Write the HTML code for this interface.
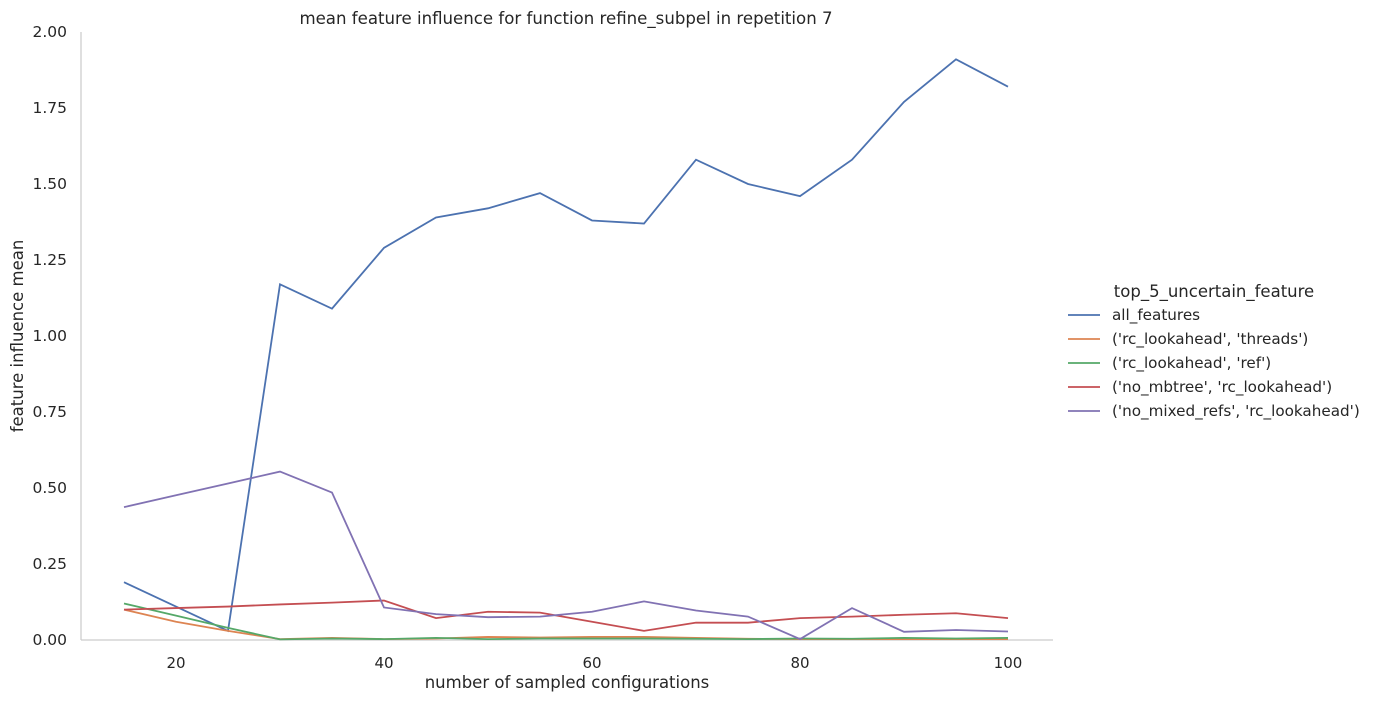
<!DOCTYPE html>
<html><head><meta charset="utf-8"><style>
body{margin:0;background:#fff}
svg text{font-family:"DejaVu Sans","Liberation Sans",sans-serif;fill:#262626}
</style></head><body>
<svg id="chart" width="1374" height="702">
<text x="566" y="24" font-size="16.6" text-anchor="middle">mean feature influence for function refine_subpel in repetition 7</text>
<g id="axes"></g>
<g id="series"></g>
<g id="legend"></g>
</svg>
<script>
const xValues=[15,20,25,30,35,40,45,50,55,60,65,70,75,80,85,90,95,100];
const allFeatures=[0.19,0.11,0.03,1.17,1.09,1.29,1.39,1.42,1.47,1.38,1.37,1.58,1.50,1.46,1.58,1.77,1.91,1.82];
const threadsVals=[0.10,0.06,0.03,0.003,0.007,0.003,0.005,0.01,0.008,0.01,0.01,0.007,0.004,0.003,0.003,0.003,0.003,0.003];
const refVals=[0.12,0.08,0.04,0.002,0.005,0.003,0.007,0.003,0.005,0.005,0.005,0.004,0.003,0.005,0.004,0.007,0.005,0.007];
const mbtreeVals=[0.10,0.105,0.11,0.117,0.123,0.13,0.072,0.093,0.09,0.06,0.03,0.057,0.057,0.072,0.077,0.083,0.088,0.072];
const mixedVals=[0.437,0.476,0.515,0.554,0.485,0.107,0.085,0.075,0.077,0.093,0.127,0.097,0.077,0.003,0.105,0.027,0.033,0.028];
const xTicks=[20,40,60,80,100];
const yTicks=[0,0.25,0.5,0.75,1.0,1.25,1.5,1.75,2.0];
const seriesNames=["all_features","('rc_lookahead', 'threads')","('rc_lookahead', 'ref')","('no_mbtree', 'rc_lookahead')","('no_mixed_refs', 'rc_lookahead')"];
const seriesColors=["#4c72b0","#dd8452","#55a868","#c44e52","#8172b3"];
const seriesData=[allFeatures,threadsVals,refVals,mbtreeVals,mixedVals];

const NS="http://www.w3.org/2000/svg";
const X=v=>176+(v-20)*10.4;
const Y=v=>640-v*304;
function mk(tag,attrs,parent){const e=document.createElementNS(NS,tag);for(const k in attrs)e.setAttribute(k,attrs[k]);parent.appendChild(e);return e;}
const axes=document.getElementById('axes');
let l=mk('line',{x1:81,y1:32,x2:81,y2:640,stroke:'#ccc','stroke-width':1.25},axes);


l=mk('line',{x1:81,y1:640,x2:1053,y2:640,stroke:'#ccc','stroke-width':1.25},axes);


xTicks.forEach(t=>{const e=mk('text',{x:X(t),y:668,'font-size':15,'text-anchor':'middle'},axes);e.textContent=t;

});
yTicks.forEach(t=>{const e=mk('text',{x:67,y:Y(t)+5,'font-size':15.5,'text-anchor':'end'},axes);e.textContent=t.toFixed(2);

});
let e=mk('text',{x:567,y:688,'font-size':16.5,'text-anchor':'middle'},axes);e.textContent='number of sampled configurations';


e=mk('text',{x:0,y:0,'font-size':16.5,'text-anchor':'middle',transform:'translate(23,336) rotate(-90)'},axes);e.textContent='feature influence mean';


const sg=document.getElementById('series');
seriesData.forEach((d,i)=>{const p=mk('polyline',{points:d.map((v,j)=>X(xValues[j])+','+Y(v)).join(' '),fill:'none',stroke:seriesColors[i],'stroke-width':1.8},sg);

});
const lg=document.getElementById('legend');
e=mk('text',{x:1214,y:297,'font-size':16.5,'text-anchor':'middle'},lg);e.textContent='top_5_uncertain_feature';


seriesNames.forEach((n,i)=>{const y=315+i*24;
const ln=mk('line',{x1:1068,y1:y,x2:1100,y2:y,stroke:seriesColors[i],'stroke-width':1.8},lg);


const t=mk('text',{x:1112,y:y+5,'font-size':15.2},lg);t.textContent=n;

});
</script>
</body></html>
